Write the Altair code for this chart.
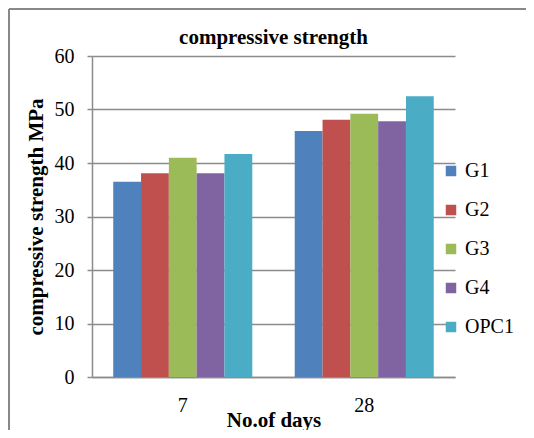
import altair as alt
import pandas as pd

days = ["7", "28"]
groups = ["G1", "G2", "G3", "G4", "OPC1"]
colors = ["#4F81BD", "#C0504D", "#9BBB59", "#8064A2", "#4BACC6"]
vals_7 = [36.5, 38.1, 41.0, 38.1, 41.7]
vals_28 = [46.0, 48.1, 49.2, 47.8, 52.5]
y_ticks = [0, 10, 20, 30, 40, 50, 60]
chart_title = "compressive strength"

rows = []
for g, v in zip(groups, vals_7):
    rows.append({"days": "7", "group": g, "value": v})
for g, v in zip(groups, vals_28):
    rows.append({"days": "28", "group": g, "value": v})
df = pd.DataFrame(rows)

FONT = "Liberation Serif"
GRID = "#8c8c8c"
W, H = 363, 321

bars = alt.Chart(df).mark_bar().encode(
    x=alt.X("days:N", sort=days, title="No.of days",
            scale=alt.Scale(paddingInner=0.234, paddingOuter=0.117),
            axis=alt.Axis(labelAngle=0, ticks=False, labelPadding=18, labelFontSize=20,
                          labelFont=FONT, labelColor="black", titleFont=FONT,
                          titleFontSize=21, titleFontWeight="bold", titleColor="black",
                          titleY=49, titleBaseline="alphabetic",
                          domainColor=GRID, domainWidth=1.5, grid=False)),
    xOffset=alt.XOffset("group:N", sort=groups, scale=alt.Scale(paddingInner=0, paddingOuter=0)),
    y=alt.Y("value:Q", title="compressive strength MPa",
            scale=alt.Scale(domain=[0, 60], nice=False),
            axis=alt.Axis(values=y_ticks, tickSize=5, tickColor=GRID, tickWidth=1.5,
                          labelPadding=13, labelFontSize=20, labelFont=FONT, labelColor="black",
                          titleFont=FONT, titleFontSize=21, titleFontWeight="bold",
                          titleColor="black", titlePadding=8, domainColor=GRID, domainWidth=1.5,
                          gridColor=GRID, gridWidth=1.5)),
    color=alt.Color("group:N", sort=groups, scale=alt.Scale(domain=groups, range=colors),
                    legend=alt.Legend(title=None, orient="none", legendX=349, legendY=105,
                                      symbolType="square", symbolSize=110, symbolStrokeWidth=0,
                                      labelFont=FONT, labelFontSize=20, labelColor="black",
                                      labelOffset=4, rowPadding=19, padding=0)),
)

title_text = alt.Chart(pd.DataFrame({"t": [chart_title]})).mark_text(
    font=FONT, fontSize=21, fontWeight="bold", color="black",
    align="center", baseline="alphabetic").encode(
    text="t:N", x=alt.value(W / 2), y=alt.value(-12))

frame_left = alt.Chart(df).mark_rule(color="#888888", strokeWidth=2).encode(
    x=alt.value(-83), y=alt.value(-47), y2=alt.value(H + 60))
frame_top = alt.Chart(df).mark_rule(color="#888888", strokeWidth=2).encode(
    x=alt.value(-83), x2=alt.value(W + 80), y=alt.value(-47))

chart = alt.layer(bars, title_text, frame_left, frame_top).properties(
    width=W, height=H,
    autosize=alt.AutoSizeParams(type="none"),
    padding={"left": 84, "top": 48, "right": 71, "bottom": 53},
).configure_view(stroke=None)

chart.save("out.html", embed_options={"renderer": "svg", "actions": False})
